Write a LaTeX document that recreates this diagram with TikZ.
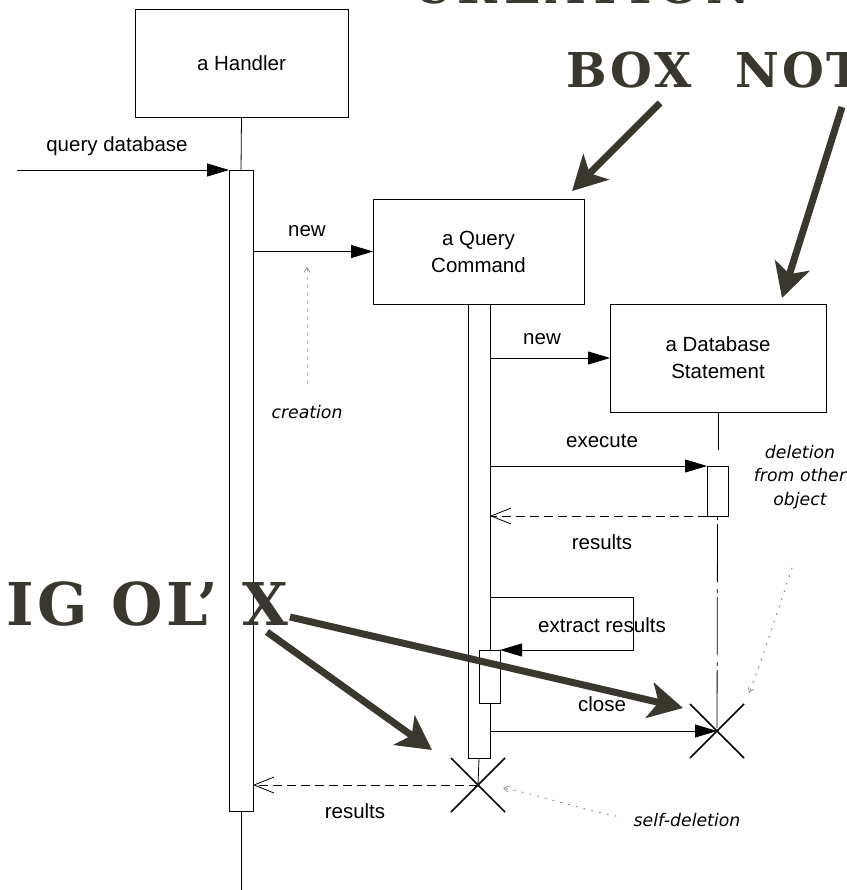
\documentclass[tikz,border=0pt]{standalone}
\usepackage{fontspec}
\setmainfont{Liberation Sans}
\newfontfamily\notefont{DejaVu Sans}
\newfontfamily\bigfont[LetterSpace=6]{DejaVu Serif}
\newfontfamily\bigfontwide[LetterSpace=13]{DejaVu Serif}
\usetikzlibrary{arrows.meta,shapes.misc}
\definecolor{ink}{HTML}{3A372F}
\begin{document}
\begin{tikzpicture}[x=1pt,y=-1pt,
  every node/.style={inner sep=0pt, outer sep=0pt},
  obj/.style={draw, line width=0.8pt, fill=white, align=center, font=\fontsize{20.5}{27}\selectfont},
  actbox/.style={draw, line width=0.8pt, fill=white},
  lbl/.style={font=\fontsize{20.5}{24}\selectfont, anchor=base},
  notetxt/.style={font=\notefont\itshape\fontsize{17.3}{23.5}\selectfont, align=center},
  lifeline/.style={line width=0.8pt},
  msg/.style={line width=0.8pt, -{Triangle[length=22pt,width=13pt]}},
  ret/.style={line width=0.8pt, dash pattern=on 9pt off 5pt, -{Straight Barb[length=20pt,width=16pt,line width=0.8pt]}},
  killx/.style={cross out, draw, line width=1.6pt, minimum size=54pt},
  note/.style={draw=gray, line width=1pt, dash pattern=on 1pt off 7pt, line cap=round, -{Straight Barb[length=5pt,width=6pt,line width=0.6pt]}},
  bigtxt/.style={text=ink, font=\bigfont\bfseries\fontsize{48}{50}\selectfont},
  bigtxtw/.style={text=ink, font=\bigfontwide\bfseries\fontsize{48}{50}\selectfont},
  bigtxtx/.style={text=ink, font=\bigfont\bfseries\fontsize{59}{60}\selectfont},
  bigarrow/.style={draw=ink, line width=7pt, -{Stealth[length=34pt,width=36pt,inset=9pt]}}
]
\useasboundingbox (0,0) rectangle (846,890);
\fill[white] (0,0) rectangle (846,890);

% objects
\node[obj, minimum width=213pt, minimum height=108pt] (handler) at (241.5,63) {a Handler};
\node[obj, minimum width=211pt, minimum height=105pt] (query) at (478.5,251.5) {a Query\\Command};
\node[obj, minimum width=216pt, minimum height=108pt] (db) at (718,358) {a Database\\Statement};

% activations
\node[actbox, minimum width=24pt, minimum height=641pt] (act1) at (241,490.5) {};
\node[actbox, minimum width=22pt, minimum height=454pt] (act2) at (479,531) {};
\node[actbox, minimum width=21pt, minimum height=50pt] (act3) at (717.5,491) {};

% deletion marks
\node[killx] (xq) at (478,785) {};
\node[killx] (xdb) at (717,731) {};

% lifelines
\coordinate (hend) at (241,890);
\draw[lifeline] (handler.south) -- (act1.north);
\draw[lifeline] (act1.south) -- (hend);
\draw[lifeline] (act2.south) -- (xq.center);
\draw[lifeline, dash pattern=on 38pt off 16pt] (db.south) -- (db.south |- act3.north);
\draw[lifeline, dash pattern=on 4pt off 4pt on 58pt off 7pt] (act3.south) -- (xdb.center);

% messages
\coordinate (qstart) at (17,170);
\draw[msg] (qstart) -- (act1.north west);
\node[lbl] (lq) at (117,152) {query database};

\draw[msg] (act1.east |- query.west) -- (query.west);
\node[lbl] (lnew1) at (307,237) {new};

\draw[msg] (act2.east |- db.west) -- (db.west);
\node[lbl] (lnew2) at (542,344) {new};

\draw[msg] (act2.east |- act3.north west) -- (act3.north west);
\node[lbl] (lexec) at (602,447) {execute};

\draw[ret] (act3.south west) -- (act2.east |- act3.south west);
\node[lbl] (lres1) at (602,549) {results};

% self call
\coordinate (sc1) at (633,597);
\coordinate (sc2) at (633,650);
\node[actbox, minimum width=21pt, minimum height=53pt] (act4) at (489.5,676.5) {};
\draw[msg] (act2.east |- sc1) -- (sc1) -- (sc2) -- (act4.north east);
\node[lbl] (lextract) at (602,632) {extract results};

\draw[msg] (act2.east |- xdb) -- (xdb.center);
\node[lbl] (lclose) at (602,711) {close};

\draw[ret] (xq.center) -- (act1.east |- xq.center);
\node[lbl] (lres2) at (355,818) {results};

% hand-written notes
\node[notetxt, anchor=base] (creation) at (307,418) {creation};
\coordinate (cre1) at (307,267);
\draw[note, shorten <=22pt] (creation.north) -- (cre1);

\node[notetxt, anchor=base] (delnote) at (800,505) {deletion\\from other\\object};
\coordinate (del0) at (792,568);
\coordinate (del1) at (749,693);
\draw[note] (del0) .. controls (778,610) and (762,660) .. (del1);

\node[notetxt, anchor=base] (selfdel) at (687,826) {self-deletion};
\coordinate (sd1) at (503,788);
\draw[note, shorten <=18pt] (selfdel.west) .. controls (575,808) and (540,795) .. (sd1);

% big annotations
\node[bigtxtw, anchor=base] (tcreation) at (582,4) {CREATION};
\node[bigtxt, anchor=base west] (tboxnot) at (566,88) {BOX\hspace{44pt}NOT};
\node[bigtxtx, anchor=base east] (tbigx) at (288,625) {BIG OL’ X};

\coordinate (a1s) at (660,103);
\coordinate (a1e) at (572,191);
\coordinate (a2s) at (842,107);
\coordinate (a2e) at (782,298);
\coordinate (a3s) at (290,617);
\coordinate (a3e) at (683,708);
\coordinate (a4s) at (267,632);
\coordinate (a4e) at (432,750);
\draw[bigarrow] (a1s) -- (a1e);
\draw[bigarrow] (a2s) -- (a2e);
\draw[bigarrow] (a3s) -- (a3e);
\draw[bigarrow] (a4s) -- (a4e);
\end{tikzpicture}
\end{document}
